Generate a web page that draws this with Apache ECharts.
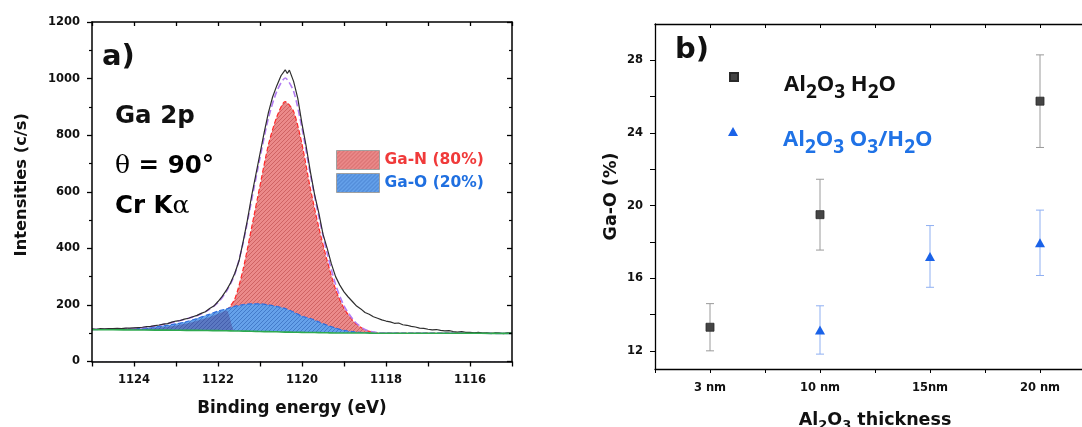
<!DOCTYPE html>
<html><head><meta charset="utf-8">
<script src="https://cdn.jsdelivr.net/npm/echarts@6/dist/echarts.min.js"></script>
<style>html,body{margin:0;padding:0;background:#fff}#c{width:1082px;height:427px}</style>
</head><body><div id="c"></div>
<script>
// ---------- Panel a data ----------
const fitEnergy = [1125,1124.5,1124,1123.5,1123,1122.75,1122.5,1122.25,1122,1121.8,1121.6,1121.4,1121.2,1121.0,1120.8,1120.6,1120.4,1120.2,1120.0,1119.8,1119.6,1119.4,1119.2,1119.0,1118.75,1118.5,1118.25,1118,1117.5,1117,1116.5,1116,1115.5,1115];
const background = [112,112,111.5,111,110.5,110,110,109.5,109,108.5,108,107.5,107,106,105.5,105,104,103.5,103,102.5,102,101.5,101,101,100.5,100.5,100,100,100,100,100,100,99.5,99.5];
const gaN = [112,113,114,118,127,134,144,155,168,180,221,327,473,622,766,865,919,884,768,611,474,356,255,188,138,112,102.5,100.5,100,100,100,100,99.5,99.5];
const gaO = [112,113,115,122,133,141,152,165,178,186,195,201,204,204,200,195,187,175,160,152,140,128,118,110,105,102,100.5,100,100,100,100,100,99.5,99.5];
const envelope = [113,115,117,125,141,151,162,180,208,248,308,420,570,720,860,955,1002,955,825,660,512,382,272,197,142,113,103,100.5,100,100,100,100,99.5,99.5];
const rawEnergy = [1125.0,1124.9,1124.8,1124.7,1124.6,1124.5,1124.4,1124.3,1124.2,1124.1,1124.0,1123.9,1123.8,1123.7,1123.6,1123.5,1123.4,1123.3,1123.2,1123.1,1123.0,1122.9,1122.8,1122.7,1122.6,1122.5,1122.4,1122.3,1122.2,1122.1,1122.0,1121.9,1121.8,1121.7,1121.6,1121.5,1121.4,1121.3,1121.2,1121.1,1121.0,1120.9,1120.8,1120.7,1120.6,1120.5,1120.4,1120.35,1120.3,1120.2,1120.1,1120.0,1119.9,1119.8,1119.7,1119.6,1119.5,1119.4,1119.3,1119.2,1119.1,1119.0,1118.9,1118.8,1118.7,1118.6,1118.5,1118.4,1118.3,1118.2,1118.1,1118.0,1117.9,1117.8,1117.7,1117.6,1117.5,1117.4,1117.3,1117.2,1117.1,1117.0,1116.9,1116.8,1116.7,1116.6,1116.5,1116.4,1116.3,1116.2,1116.1,1116.0,1115.9,1115.8,1115.7,1115.6,1115.5,1115.4,1115.3,1115.2,1115.1,1115.0];
const rawIntensity = [115,114,116,115,116,116,117,116,118,118,119,120,121,123,124,127,129,132,134,139,143,145,150,153,158,163,170,176,187,196,212,230,252,278,312,355,425,500,585,660,735,810,880,935,975,1010,1031,1018,1030,990,930,840,760,670,590,525,450,400,345,300,270,246,228,212,196,186,173,167,158,153,147,143,140,135,136,130,128,124,122,118,117,114,112,113,110,108,109,106,104,106,103,103,101,103,100,101,99,101,100,98,101,100];
const energyTicks = [1116,1118,1120,1122,1124];

// ---------- Panel b data ----------
const thicknessLabels = ['3 nm','10 nm','15nm','20 nm'];
const h2oMean = [13.3, 19.5, null, 25.75];
const h2oErr  = [1.3, 1.95, null, 2.55];
const o3Mean  = [null, 13.15, 17.2, 17.95];
const o3Err   = [null, 1.33, 1.7, 1.8];
const gaOTicks = [12,16,20,24,28];

// ---------- helpers ----------
const FONT = "'DejaVu Sans', sans-serif";
const OS = "'Open Sans', sans-serif";
function hatch(bg, line){
  const c = document.createElement('canvas'); c.width = 4; c.height = 4;
  const g = c.getContext('2d'); g.fillStyle = bg; g.fillRect(0,0,4,4);
  g.strokeStyle = line; g.lineWidth = 1;
  g.beginPath(); g.moveTo(0,4); g.lineTo(4,0); g.moveTo(-2,2); g.lineTo(2,-2); g.moveTo(2,6); g.lineTo(6,2); g.stroke();
  return {image: c, repeat: 'repeat'};
}
const redPat = hatch('#eb8a8a', '#cf6363');
const bluePat = hatch('#65a1ea', '#437bca');
const pairs = (xs, ys) => xs.map((x,i)=>[x, ys[i]]);
const bgPairs = pairs(fitEnergy, background);
const overlapPairs = pairs(fitEnergy, gaN.map((v,i)=> (v < gaO[i] && fitEnergy[i] > 1121.7) ? v : background[i]));
const pts = (m) => m.map((v,i)=> v==null?null:[i,v]).filter(Boolean);
const errs = (m,e) => m.map((v,i)=> v==null?null:[i, v-e[i], v+e[i]]).filter(Boolean);
function errRender(color){
  return function(params, api){
    const x = api.value(0);
    const a = api.coord([x, api.value(1)]), b = api.coord([x, api.value(2)]);
    const w = 4, st = {stroke: color, lineWidth: 1};
    return {type:'group', children:[
      {type:'line', shape:{x1:a[0],y1:a[1],x2:b[0],y2:b[1]}, style:st},
      {type:'line', shape:{x1:a[0]-w,y1:a[1],x2:a[0]+w,y2:a[1]}, style:st},
      {type:'line', shape:{x1:b[0]-w,y1:b[1],x2:b[0]+w,y2:b[1]}, style:st}
    ]};
  };
}
const lblA = {fontFamily: FONT, fontWeight:'bold', fontSize: 11.5, color:'#111'};
const axLine = {onZero:false, lineStyle:{color:'#000', width:1.5}};
const axLineB = {onZero:false, lineStyle:{color:'#000', width:1.3}};
const sub = {fontFamily: FONT, fontWeight:'bold'};

const chart = echarts.init(document.getElementById('c'), null, {renderer:'canvas'});
chart.setOption({
  animation: false,
  backgroundColor: '#fff',
  grid: [
    {left: 92, top: 22, width: 420, height: 339.5, outerBoundsMode:'none', containLabel:false},
    {left: 655, top: 24, width: 440, height: 345, outerBoundsMode:'none', containLabel:false}
  ],
  xAxis: [
    {type:'value', gridIndex:0, min:1115, max:1125, interval:1, inverse:true, z:10,
     axisLine: axLine, axisTick:{length:5, lineStyle:{color:'#000', width:1.3}},
     axisLabel: Object.assign({margin:13, formatter: v => energyTicks.includes(v) ? String(v) : ''}, lblA),
     splitLine:{show:false},
     name:'Binding energy (eV)', nameLocation:'middle', nameGap:39,
     nameTextStyle:{fontFamily:FONT, fontWeight:'bold', fontSize:16.8, color:'#111', padding:[0,20,0,0]}},
    {type:'value', gridIndex:0, position:'top', min:1115, max:1125, interval:1, inverse:true, z:10,
     axisLine: axLine, axisTick:{inside:true, length:4, lineStyle:{color:'#000', width:1.3}},
     axisLabel:{show:false}, splitLine:{show:false}},
    {type:'value', gridIndex:1, min:-0.5, max:3.5, interval:0.5,
     axisLine: axLineB, axisTick:{length:4, lineStyle:{color:'#000', width:1}},
     axisLabel: Object.assign({margin:13, formatter: v => Number.isInteger(v) && v>=0 && v<thicknessLabels.length ? thicknessLabels[v] : ''}, lblA),
     splitLine:{show:false},
     name:'{m|Al}{s|2}{m|O}{s|3}{m| thickness}', nameLocation:'middle', nameGap:40,
     nameTextStyle:{rich:{m:Object.assign({fontSize:17.5, color:'#111'}, sub), s:Object.assign({fontSize:13, color:'#111', padding:[10,0,0,0]}, sub)}}},
    {type:'value', gridIndex:1, position:'top', min:-0.5, max:3.5, interval:0.5,
     axisLine: axLineB, axisTick:{inside:true, length:4, lineStyle:{color:'#000', width:1}},
     axisLabel:{show:false}, splitLine:{show:false}}
  ],
  yAxis: [
    {type:'value', gridIndex:0, min:0, max:1200, interval:200, z:10,
     axisLine: axLine, axisTick:{length:5, lineStyle:{color:'#000', width:1.3}},
     minorTick:{show:true, splitNumber:2, length:3, lineStyle:{color:'#000', width:1.2}},
     axisLabel: Object.assign({margin:12, formatter: v => String(v)}, lblA), splitLine:{show:false},
     name:'Intensities (c/s)', nameLocation:'middle', nameGap:62, nameRotate:90,
     nameTextStyle:{fontFamily:FONT, fontWeight:'bold', fontSize:16.3, color:'#111', padding:[0,0,0,14]}},
    {type:'value', gridIndex:0, position:'right', min:0, max:1200, interval:200, z:10,
     axisLine: axLine, axisTick:{inside:true, length:5, lineStyle:{color:'#000', width:1.3}},
     minorTick:{show:true, splitNumber:2, length:3, lineStyle:{color:'#000', width:1.2}},
     axisLabel:{show:false}, splitLine:{show:false}},
    {type:'value', gridIndex:1, min:11, max:30,
     axisLine: axLineB,
     axisTick:{length:5, customValues:[12,14,16,18,20,22,24,26,28], lineStyle:{color:'#000', width:1}},
     axisLabel: Object.assign({margin:12, customValues: gaOTicks, formatter: v => String(v)}, lblA), splitLine:{show:false},
     name:'Ga-O (%)', nameLocation:'middle', nameGap:35, nameRotate:90,
     nameTextStyle:{fontFamily:FONT, fontWeight:'bold', fontSize:17.5, color:'#111'}}
  ],
  legend: [
    {left:331, top:145, orient:'vertical', itemWidth:43, itemHeight:19, itemGap:3,
     selectedMode:false, textStyle:{fontFamily:FONT, fontWeight:'bold', fontSize:15.5},
     data:[
      {name:'Ga-N (80%)', icon:'rect', itemStyle:{color:redPat, borderColor:'#a0a0a0', borderWidth:1}, textStyle:{color:'#f03a3a'}},
      {name:'Ga-O (20%)', icon:'rect', itemStyle:{color:bluePat, borderColor:'#a0a0a0', borderWidth:1}, textStyle:{color:'#1f6fe0'}}
     ]},
    {left:724, top:67, itemWidth:8, itemHeight:8, selectedMode:false,
     data:[{name:'Al2O3 H2O', icon:'rect'}],
     formatter: () => '{m|Al}{s|2}{m|O}{s|3}{m| H}{s|2}{m|O}',
     textStyle:{padding:[16,0,0,41], rich:{
       m:{fontFamily:OS, fontWeight:'bold', fontSize:22, color:'#111'},
       s:{fontFamily:OS, fontWeight:'bold', fontSize:19, color:'#111', padding:[16,0,0,0]}}}},
    {left:723, top:122, itemWidth:10, itemHeight:9, selectedMode:false,
     data:[{name:'Al2O3 O3/H2O', icon:'triangle'}],
     formatter: () => '{m|Al}{s|2}{m|O}{s|3}{m| O}{s|3}{m|/H}{s|2}{m|O}',
     textStyle:{padding:[16,0,0,40], rich:{
       m:{fontFamily:OS, fontWeight:'bold', fontSize:22, color:'#1f72e6'},
       s:{fontFamily:OS, fontWeight:'bold', fontSize:19, color:'#1f72e6', padding:[16,0,0,0]}}}}
  ],
  graphic: [
    {type:'text', left:102, top:43, z:20, style:{text:'a)', font:"bold 29px 'DejaVu Sans'", fill:'#111'}},
    {type:'text', left:115, top:104, z:20, style:{text:'Ga 2p', font:"bold 24.5px 'DejaVu Sans'", fill:'#111'}},
    {type:'text', left:115, top:154, z:20, style:{text:'{g|θ}{t| = 90°}', rich:{
      g:{fontFamily:"'DejaVu Serif', serif", fontSize:25, fontWeight:'normal', color:'#111'},
      t:{fontFamily:FONT, fontSize:24.5, fontWeight:'bold', color:'#111'}}}},
    {type:'text', left:115, top:194, z:20, style:{text:'{t|Cr K}{g|α}', rich:{
      g:{fontFamily:"'DejaVu Serif', serif", fontSize:25, fontWeight:'normal', color:'#111'},
      t:{fontFamily:FONT, fontSize:24.5, fontWeight:'bold', color:'#111'}}}},
    {type:'text', left:675, top:36, z:20, style:{text:'b)', font:"bold 29px 'DejaVu Sans'", fill:'#111'}}
  ],
  series: [
    {name:'Ga-N (80%)', type:'line', xAxisIndex:0, yAxisIndex:0, data:pairs(fitEnergy, gaN), showSymbol:false, smooth:0.25,
     lineStyle:{color:'#ff2a2a', type:'dashed', width:1.2}, itemStyle:{color:'#e98585'}, areaStyle:{color:redPat, opacity:1, origin:'start'}, z:2},
    {name:'Ga-O (20%)', type:'line', xAxisIndex:0, yAxisIndex:0, data:pairs(fitEnergy, gaO), showSymbol:false, smooth:0.25,
     lineStyle:{color:'#2f6fe0', type:'dashed', width:1.2}, itemStyle:{color:'#63a0ea'}, areaStyle:{color:bluePat, opacity:1, origin:'start'}, z:3},
    {name:'overlap', type:'line', xAxisIndex:0, yAxisIndex:0, data:overlapPairs, showSymbol:false, smooth:0.25,
     lineStyle:{opacity:0}, areaStyle:{color:'rgba(70,35,110,0.32)', opacity:1, origin:'start'}, z:4, silent:true},
    {name:'cover', type:'line', xAxisIndex:0, yAxisIndex:0, data:bgPairs, showSymbol:false, smooth:0.25,
     lineStyle:{opacity:0}, areaStyle:{color:'#ffffff', opacity:1, origin:'start'}, z:4.5, silent:true},
    {name:'Envelope', type:'line', xAxisIndex:0, yAxisIndex:0, data:pairs(fitEnergy, envelope), showSymbol:false, smooth:0.25,
     lineStyle:{color:'#b27cf2', type:'dashed', width:1.6}, z:5},
    {name:'Raw', type:'line', xAxisIndex:0, yAxisIndex:0, data:pairs(rawEnergy, rawIntensity), showSymbol:false,
     lineStyle:{color:'#2e2e2e', width:1.2}, z:6},
    {name:'Background', type:'line', xAxisIndex:0, yAxisIndex:0, data:bgPairs, showSymbol:false, smooth:0.25,
     lineStyle:{color:'#2faa4f', width:1.6}, z:7},

    {name:'errH2O', type:'custom', xAxisIndex:2, yAxisIndex:2, data:errs(h2oMean,h2oErr), encode:{x:0, y:[1,2]}, renderItem:errRender('#9a9a9a'), z:2, silent:true},
    {name:'errO3', type:'custom', xAxisIndex:2, yAxisIndex:2, data:errs(o3Mean,o3Err), encode:{x:0, y:[1,2]}, renderItem:errRender('#8fb0f2'), z:2, silent:true},
    {name:'Al2O3 H2O', type:'scatter', xAxisIndex:2, yAxisIndex:2, data:pts(h2oMean), symbol:'rect', symbolSize:8,
     itemStyle:{color:'#454545', borderColor:'#2a2a2a', borderWidth:0.8, opacity:1}, z:5},
    {name:'Al2O3 O3/H2O', type:'scatter', xAxisIndex:2, yAxisIndex:2, data:pts(o3Mean), symbol:'triangle', symbolSize:[10,9],
     itemStyle:{color:'#1a62e8', opacity:1}, z:5}
  ]
});
</script></body></html>
